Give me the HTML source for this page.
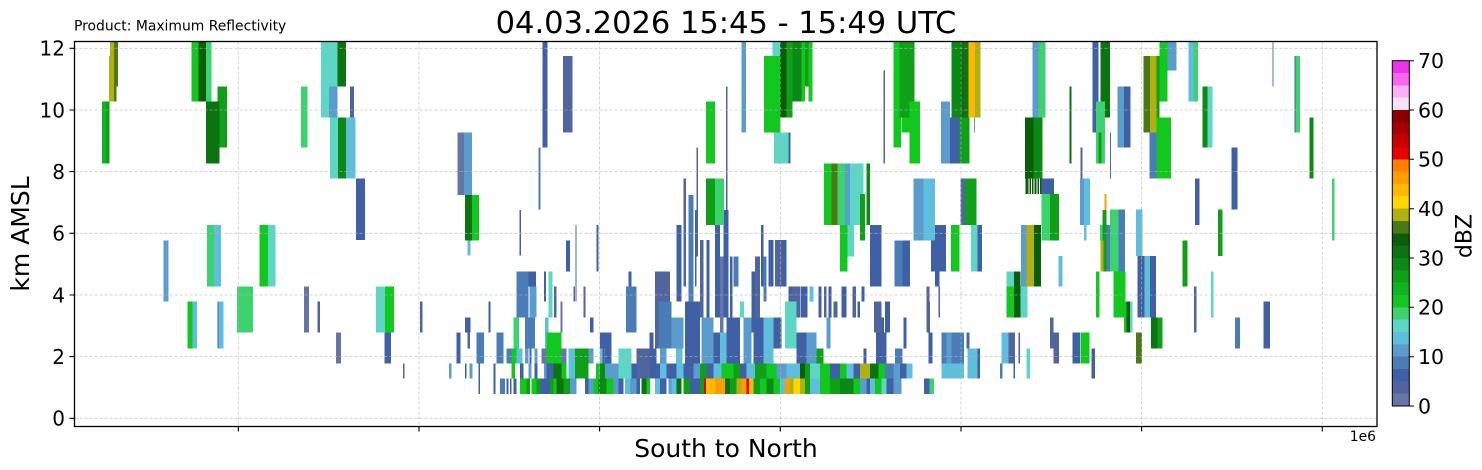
<!DOCTYPE html>
<html><head><meta charset="utf-8"><style>
html,body{margin:0;padding:0;background:#fff;}
svg{display:block;font-family:"DejaVu Sans","Liberation Sans",sans-serif;}
.b0{fill:#6575a8}.b1{fill:#50649e}.b2{fill:#4060a6}.b3{fill:#4a7cb8}.b4{fill:#5a9ccc}.b5{fill:#5fbedc}.b6{fill:#5ed6c6}.b7{fill:#3cd26e}.b8{fill:#12c81e}.b9{fill:#10b420}.b10{fill:#0fa018}.b11{fill:#0a8a14}.b12{fill:#0b730f}.b13{fill:#0a5e0a}.b14{fill:#4b7a14}.b15{fill:#b0b010}.b16{fill:#ffd800}.b17{fill:#ffb800}.b18{fill:#ff9c00}.b19{fill:#ff8000}.b20{fill:#e80000}.b21{fill:#c80000}.b22{fill:#a80000}.b23{fill:#880000}.b24{fill:#fde0f8}.b25{fill:#fbb0f5}.b26{fill:#f866f0}.b27{fill:#ee33ee}
.w{fill:#fff}
</style></head><body>
<svg width="1482" height="470" viewBox="0 0 1482 470" xmlns="http://www.w3.org/2000/svg">
<rect x="0" y="0" width="1482" height="470" fill="#fff"/>
<defs><clipPath id="ax"><rect x="74.5" y="41.5" width="1302.5" height="385"/></clipPath></defs>
<g clip-path="url(#ax)" shape-rendering="crispEdges">
<g transform="translate(74,40) scale(0.333333)">
<path class="b15" d="M105 48h15v137h-15z M108 0h12v48h-12z"/>
<path class="b14" d="M120 0h12v140h-12z M120 140h8v45h-8z"/>
<path class="b9" d="M84 185h12v185h-12z"/>
<path class="b10" d="M96 185h10v185h-10z M430 140h29v182h-29z"/>
<path class="b8" d="M352 0h24v185h-24z M556 555h26v185h-26z M340 785h15v140h-15z"/>
<path class="b13" d="M374 0h22v185h-22z"/>
<path class="b7" d="M396 0h17v185h-17z M681 140h19v182h-19z M399 555h21v185h-21z M489 740h48v138h-48z"/>
<path class="b12" d="M396 185h41v185h-41z M790 0h26v140h-26z"/>
<path class="b6" d="M741 0h49v232h-49z M768 232h24v183h-24z M582 555h23v185h-23z"/>
<path class="b4" d="M765 140h25v92h-25z M268 602h15v183h-15z"/>
<path class="b11" d="M792 232h24v183h-24z"/>
<path class="b5" d="M420 555h21v185h-21z M355 785h14v140h-14z M430 785h19v140h-19z"/>
<path class="b2" d="M430 785h3v140h-3z"/>
<path class="b0" d="M690 740h15v138h-15z M786 878h15v92h-15z"/>
<path class="b1" d="M730 785h8v93h-8z"/>
</g>
<g transform="translate(340,40) scale(0.333333)">
<path class="b1" d="M30 140h12v92h-12z M189 970h4v45h-4z M669 48h29v230h-29z M706 555h4v230h-4z M240 785h8v93h-8z M642 740h8v92h-8z M700 740h5v45h-5z M730 740h6v92h-6z M382 878h8v47h-8z"/>
<path class="b2" d="M48 415h27v185h-27z M133 878h20v92h-20z M608 0h14v322h-14z M538 510h5v136h-5z M678 602h12v93h-12z M770 555h6v140h-6z M565 695h23v45h-23z M612 695h6v90h-6z M750 832h10v46h-10z M375 832h17v46h-17z M445 785h7v93h-7z M350 878h12v92h-12z M415 970h5v92h-5z M790 878h20v92h-20z M375 970h5v45h-5z M568 925h7v45h-7z M460 970h7v92h-7z M540 970h10v45h-10z M583 970h9v45h-9z M620 970h20v45h-20z M500 1015h5v47h-5z M510 1015h5v47h-5z M520 1015h10v47h-10z M600 1015h30v47h-30z M735 1015h10v47h-10z"/>
<path class="b3" d="M595 322h7v186h-7z M530 695h35v137h-35z M555 832h30v93h-30z M410 878h22v92h-22z M470 878h20v92h-20z M500 925h15v45h-15z M790 925h20v90h-20z M480 1015h15v47h-15z"/>
<path class="b0" d="M352 278h20v187h-20z M662 785h6v93h-6z M605 925h15v45h-15z M665 925h15v45h-15z"/>
<path class="b4" d="M372 278h24v187h-24z M568 740h22v92h-22z M327 970h8v45h-8z M388 970h10v45h-10z M555 925h10v45h-10z M583 925h9v45h-9z M745 925h15v45h-15z M565 970h10v45h-10z M612 970h8v45h-8z M690 1015h20v47h-20z M745 1015h15v47h-15z"/>
<path class="b5" d="M18 232h29v183h-29z M382 602h10v44h-10z M615 832h10v93h-10z M530 925h18v45h-18z M685 925h20v90h-20z"/>
<path class="b6" d="M108 740h27v138h-27z M625 695h13v137h-13z"/>
<path class="b7" d="M520 832h17v93h-17z"/>
<path class="b8" d="M135 740h27v138h-27z M396 465h21v137h-21z M620 878h45v92h-45z M515 925h15v45h-15z M768 970h22v45h-22z M515 970h10v45h-10z M665 970h15v45h-15z M540 1015h20v47h-20z M575 1015h15v47h-15z M640 1015h10v47h-10z M760 1015h15v47h-15z"/>
<path class="b10" d="M705 925h40v90h-40z M560 1015h10v47h-10z M590 1015h10v47h-10z M630 1015h10v47h-10z M670 1015h20v47h-20z M790 1015h20v47h-20z"/>
<path class="b12" d="M375 465h21v137h-21z M640 970h25v45h-25z M650 1015h20v47h-20z M775 1015h15v47h-15z"/>
</g>
<g transform="translate(600,40) scale(0.333333)">
<path class="b1" d="M378 140h5v415h-5z M290 322h4v328h-4z M250 415h8v325h-8z M300 600h10v232h-10z M465 650h15v182h-15z M525 600h23v140h-23z M575 740h25v92h-25z M672 740h8v92h-8z M700 785h12v47h-12z M758 740h10v92h-10z M165 695h45v230h-45z M110 925h40v90h-40z"/>
<path class="b2" d="M565 278h7v92h-7z M230 555h15v230h-15z M285 510h5v230h-5z M320 600h8v278h-8z M345 555h15v277h-15z M370 510h15v322h-15z M390 650h8v182h-8z M455 695h10v183h-10z M483 555h7v185h-7z M505 600h15v140h-15z M548 600h12v140h-12z M565 740h10v92h-10z M602 740h20v92h-20z M656 740h9v92h-9z M685 740h10v92h-10z M725 740h15v92h-15z M772 785h8v47h-8z M788 740h5v45h-5z M85 695h10v45h-10z M148 878h12v92h-12z M255 785h45v185h-45z M340 878h20v92h-20z M380 832h40v138h-40z M460 832h30v138h-30z M520 832h25v93h-25z M590 878h30v92h-30z M0 878h12v92h-12z M15 878h20v92h-20z M150 925h20v90h-20z M95 970h15v45h-15z M150 970h30v45h-30z M200 970h30v45h-30z M250 970h30v45h-30z M320 970h20v45h-20z M420 970h20v45h-20z M690 970h30v45h-30z M760 970h20v45h-20z M55 1015h15v47h-15z M110 1015h10v47h-10z M180 1015h20v47h-20z M270 1015h30v47h-30z"/>
<path class="b3" d="M265 465h15v320h-15z M400 650h15v90h-15z M490 650h10v135h-10z M78 740h32v138h-32z M175 785h40v140h-40z"/>
<path class="b0" d="M360 650h10v228h-10z"/>
<path class="b4" d="M425 0h13v278h-13z M735 370h15v185h-15z M215 832h35v93h-35z M305 832h35v138h-35z M430 832h25v138h-25z M620 878h30v92h-30z M680 832h12v93h-12z M180 925h20v45h-20z M15 970h40v45h-40z M280 970h20v45h-20z M530 970h30v45h-30z M40 1015h15v47h-15z M90 1015h20v47h-20z M205 1015h10v47h-10z"/>
<path class="b5" d="M628 740h12v45h-12z M360 878h20v92h-20z M490 832h30v138h-30z M0 925h8v45h-8z M228 925h20v45h-20z M180 970h20v45h-20z M230 970h20v45h-20z M340 970h25v45h-25z M440 970h25v45h-25z M560 970h40v45h-40z M740 970h20v45h-20z M75 1015h15v47h-15z M165 1015h15v47h-15z M215 1015h15v47h-15z M540 1015h15v47h-15z M630 1015h30v47h-30z"/>
<path class="b6" d="M517 0h25v48h-25z M522 278h43v92h-43z M750 370h35v185h-35z M742 555h20v95h-20z M420 785h12v47h-12z M555 785h35v140h-35z M55 925h40v90h-40z M630 970h30v45h-30z"/>
<path class="b7" d="M345 415h27v140h-27z M712 370h23v185h-23z"/>
<path class="b8" d="M492 48h50v230h-50z M605 0h10v185h-10z M625 0h13v185h-13z M318 185h27v185h-27z M672 370h23v185h-23z M720 555h22v140h-22z M365 970h35v45h-35z M500 970h30v45h-30z M660 970h30v45h-30z M720 970h20v45h-20z M20 1015h20v47h-20z M140 1015h10v47h-10z M480 1015h20v47h-20z M520 1015h20v47h-20z M660 1015h30v47h-30z M760 1015h30v47h-30z"/>
<path class="b9" d="M780 465h12v135h-12z"/>
<path class="b10" d="M560 0h18v232h-18z M615 0h10v140h-10z M318 415h27v140h-27z M650 925h20v45h-20z M300 970h20v45h-20z M400 970h20v45h-20z M465 970h35v45h-35z M615 970h15v45h-15z M250 1015h20v47h-20z M300 1015h12v47h-12z M390 1015h20v47h-20z M460 1015h20v47h-20z M615 1015h15v47h-15z M690 1015h30v47h-30z M790 1015h20v47h-20z"/>
<path class="b11" d="M578 0h27v185h-27z M800 370h10v185h-10z M0 970h15v45h-15z M0 1015h20v47h-20z M500 1015h20v47h-20z M720 1015h40v47h-40z"/>
<path class="b12" d="M125 1015h15v47h-15z M230 1015h15v47h-15z M375 1015h15v47h-15z"/>
<path class="b13" d="M540 0h20v232h-20z M600 970h15v45h-15z"/>
<path class="b14" d="M695 370h17v185h-17z"/>
<path class="b15" d="M780 970h30v45h-30z M410 1015h15v47h-15z M570 1015h10v47h-10z M600 1015h15v47h-15z"/>
<path class="b16" d="M580 1015h20v47h-20z"/>
<path class="b17" d="M318 1015h27v47h-27z M447 1015h13v47h-13z"/>
<path class="b18" d="M345 1015h30v47h-30z M425 1015h15v47h-15z M555 1015h15v47h-15z"/>
<path class="b20" d="M312 1015h6v47h-6z M440 1015h7v47h-7z"/>
</g>
<g transform="translate(860,40) scale(0.333333)">
<path class="b1" d="M70 92h5v278h-5z M662 323h5v92h-5z M750 278h3v137h-3z M302 415h13v140h-13z M200 740h8v45h-8z M235 740h5v92h-5z M42 785h23v93h-23z M200 785h10v93h-10z M320 878h8v47h-8z M445 878h20v92h-20z M570 832h10v93h-10z M580 878h17v92h-17z"/>
<path class="b2" d="M270 232h28v138h-28z M545 415h37v47h-37z M697 0h18v278h-18z M30 555h35v185h-35z M128 602h22v138h-22z M213 555h45v140h-45z M225 695h13v45h-13z M352 555h14v140h-14z M5 740h7v45h-7z M75 785h15v93h-15z M65 832h7v46h-7z M130 832h10v93h-10z M205 878h13v92h-13z M10 925h10v45h-10z M48 878h32v92h-32z M352 925h8v90h-8z M475 878h5v92h-5z M638 878h22v92h-22z M695 925h10v90h-10z M460 970h5v45h-5z M120 970h20v45h-20z M20 1015h10v47h-10z M80 1015h20v47h-20z M192 1015h16v47h-16z"/>
<path class="b3" d="M740 555h10v140h-10z M103 602h25v138h-25z M105 925h23v45h-23z M245 878h67v92h-67z M420 970h8v45h-8z M75 970h25v45h-25z"/>
<path class="b6" d="M0 370h10v185h-10z M333 555h19v140h-19z M440 695h25v45h-25z M482 740h20v92h-20z M500 925h10v90h-10z M65 1015h15v47h-15z"/>
<path class="b5" d="M190 415h35v187h-35z M660 415h30v140h-30z M672 555h8v47h-8z M596 648h12v92h-12z M245 970h67v45h-67z M322 925h30v90h-30z M425 878h20v92h-20z M140 970h18v45h-18z M30 1015h15v47h-15z"/>
<path class="b4" d="M243 185h27v185h-27z M342 232h3v46h-3z M517 0h18v232h-18z M160 415h30v187h-30z M660 415h12v140h-12z M483 555h17v185h-17z M260 878h15v92h-15z M100 970h20v45h-20z M0 1015h20v47h-20z M100 1015h25v47h-25z"/>
<path class="b7" d="M535 0h21v232h-21z M545 462h25v140h-25z M708 185h27v185h-27z M720 555h8v47h-8z M208 1015h14v47h-14z"/>
<path class="b10" d="M118 0h45v232h-45z M298 232h30v138h-30z M570 462h27v140h-27z M715 278h10v92h-10z M0 462h15v140h-15z M315 415h35v140h-35z M728 510h12v185h-12z"/>
<path class="b8" d="M100 0h18v323h-18z M118 232h5v91h-5z M125 232h23v46h-23z M148 185h32v185h-32z M273 555h25v140h-25z M440 740h25v92h-25z M708 695h10v137h-10z M662 878h26v92h-26z M55 970h20v45h-20z M45 1015h20v47h-20z"/>
<path class="b11" d="M275 0h25v232h-25z M520 232h28v183h-28z M20 370h10v185h-10z"/>
<path class="b12" d="M300 0h25v232h-25z M628 140h7v230h-7z M722 0h28v185h-28z M735 185h15v47h-15z M30 970h25v45h-25z"/>
<path class="b13" d="M495 232h25v183h-25z M497 415h48v47h-48z M522 555h21v185h-21z M462 695h20v137h-20z"/>
<path class="w" d="M505 415h3v47h-3z M513 415h3v47h-3z M521 415h3v47h-3z M529 415h3v47h-3z M537 415h3v47h-3z"/>
<path class="b15" d="M345 0h17v232h-17z M722 602h8v93h-8z M500 555h22v185h-22z M0 970h30v45h-30z"/>
<path class="b17" d="M325 0h20v232h-20z"/>
<path class="b18" d="M733 462h7v48h-7z"/>
</g>
<g transform="translate(1110,40) scale(0.333333)">
<path class="b1" d="M0 278h3v137h-3z M252 740h8v138h-8z"/>
<path class="b2" d="M42 140h20v183h-20z M553 48h4v230h-4z M365 323h17v185h-17z M255 415h13v140h-13z M83 648h20v184h-20z M120 648h18v184h-18z M460 785h20v140h-20z"/>
<path class="b3" d="M118 278h22v137h-22z M487 0h4v140h-4z M25 508h20v187h-20z M375 832h15v93h-15z"/>
<path class="b4" d="M172 0h28v92h-28z M22 140h20v183h-20z"/>
<path class="b5" d="M235 0h15v185h-15z M78 508h20v140h-20z M103 648h17v184h-17z"/>
<path class="b6" d="M293 140h14v183h-14z M60 785h8v93h-8z M303 695h8v137h-8z"/>
<path class="b7" d="M250 0h14v185h-14z M557 48h13v230h-13z M666 415h7v187h-7z M0 508h25v187h-25z"/>
<path class="b10" d="M140 48h8v230h-8z M324 508h14v140h-14z M217 602h16v138h-16z M143 832h15v93h-15z"/>
<path class="b8" d="M148 0h24v185h-24z M140 232h43v183h-43z M10 695h37v137h-37z M42 785h13v93h-13z"/>
<path class="b11" d="M278 140h15v183h-15z M598 232h12v183h-12z"/>
<path class="b12" d="M123 832h20v93h-20z"/>
<path class="b13" d="M50 785h10v93h-10z"/>
<path class="b14" d="M100 48h20v230h-20z M78 878h18v92h-18z"/>
<path class="b15" d="M120 48h20v230h-20z"/>
</g>
</g>
<path d="M74.5 418.3H1377 M74.5 356.6H1377 M74.5 295H1377 M74.5 233.3H1377 M74.5 171.6H1377 M74.5 110H1377 M74.5 48.3H1377 M238.3 41.5V426.5 M419 41.5V426.5 M599.6 41.5V426.5 M780.3 41.5V426.5 M961 41.5V426.5 M1141.6 41.5V426.5 M1322.3 41.5V426.5" stroke="#b4b4b4" stroke-width="0.8" stroke-dasharray="3,2" opacity="0.75" fill="none"/>
<rect x="74.5" y="41.5" width="1302.5" height="385" fill="none" stroke="#000" stroke-width="1.3"/>
<path d="M69.5 418.3h5 M69.5 356.6h5 M69.5 295h5 M69.5 233.3h5 M69.5 171.6h5 M69.5 110h5 M69.5 48.3h5 M238.3 426.5v5 M419 426.5v5 M599.6 426.5v5 M780.3 426.5v5 M961 426.5v5 M1141.6 426.5v5 M1322.3 426.5v5" stroke="#000" stroke-width="1.1" fill="none"/>
<g font-size="20" text-anchor="end" fill="#000">
<text x="65" y="425.6">0</text>
<text x="65" y="363.9">2</text>
<text x="65" y="302.3">4</text>
<text x="65" y="240.6">6</text>
<text x="65" y="178.9">8</text>
<text x="65" y="117.3">10</text>
<text x="65" y="55.6">12</text>
</g>
<text x="726" y="33" font-size="30.5" text-anchor="middle" fill="#000">04.03.2026 15:45 - 15:49 UTC</text>
<text x="74" y="30.5" font-size="13.9" fill="#000">Product: Maximum Reflectivity</text>
<text transform="translate(29,234) rotate(-90)" font-size="25" text-anchor="middle" fill="#000">km AMSL</text>
<text x="726" y="457" font-size="25" text-anchor="middle" fill="#000">South to North</text>
<text x="1376" y="441" font-size="13.9" text-anchor="end" fill="#000">1e6</text>
<g shape-rendering="crispEdges" transform="translate(1392.3,60.7)">
<path class="b27" d="M0 0h17v12.4h-17z"/>
<path class="b26" d="M0 12.33h17v12.4h-17z"/>
<path class="b25" d="M0 24.66h17v12.4h-17z"/>
<path class="b24" d="M0 36.99h17v12.4h-17z"/>
<path class="b23" d="M0 49.32h17v12.4h-17z"/>
<path class="b22" d="M0 61.65h17v12.4h-17z"/>
<path class="b21" d="M0 73.98h17v12.4h-17z"/>
<path class="b20" d="M0 86.31h17v12.4h-17z"/>
<path class="b19" d="M0 98.64h17v12.4h-17z"/>
<path class="b18" d="M0 110.97h17v12.4h-17z"/>
<path class="b17" d="M0 123.3h17v12.4h-17z"/>
<path class="b16" d="M0 135.63h17v12.4h-17z"/>
<path class="b15" d="M0 147.96h17v12.4h-17z"/>
<path class="b14" d="M0 160.29h17v12.4h-17z"/>
<path class="b13" d="M0 172.62h17v12.4h-17z"/>
<path class="b12" d="M0 184.95h17v12.4h-17z"/>
<path class="b11" d="M0 197.28h17v12.4h-17z"/>
<path class="b10" d="M0 209.61h17v12.4h-17z"/>
<path class="b9" d="M0 221.94h17v12.4h-17z"/>
<path class="b8" d="M0 234.27h17v12.4h-17z"/>
<path class="b7" d="M0 246.6h17v12.4h-17z"/>
<path class="b6" d="M0 258.93h17v12.4h-17z"/>
<path class="b5" d="M0 271.26h17v12.4h-17z"/>
<path class="b4" d="M0 283.59h17v12.4h-17z"/>
<path class="b3" d="M0 295.92h17v12.4h-17z"/>
<path class="b2" d="M0 308.25h17v12.4h-17z"/>
<path class="b1" d="M0 320.58h17v12.4h-17z"/>
<path class="b0" d="M0 332.91h17v12.39h-17z"/>
</g>
<rect x="1392.3" y="60.7" width="17" height="345.3" fill="none" stroke="#000" stroke-width="1"/>
<path d="M1409.3 406h4.7 M1409.3 356.7h4.7 M1409.3 307.3h4.7 M1409.3 258h4.7 M1409.3 208.7h4.7 M1409.3 159.3h4.7 M1409.3 110h4.7 M1409.3 60.7h4.7" stroke="#000" stroke-width="1" fill="none"/>
<g font-size="20.5" fill="#000">
<text x="1418" y="413.4">0</text>
<text x="1418" y="364.1">10</text>
<text x="1418" y="314.7">20</text>
<text x="1418" y="265.4">30</text>
<text x="1418" y="216.1">40</text>
<text x="1418" y="166.7">50</text>
<text x="1418" y="117.4">60</text>
<text x="1418" y="68.1">70</text>
</g>
<text transform="translate(1471.5,236) rotate(-90)" font-size="22" text-anchor="middle" fill="#000">dBZ</text>
</svg>
</body></html>
